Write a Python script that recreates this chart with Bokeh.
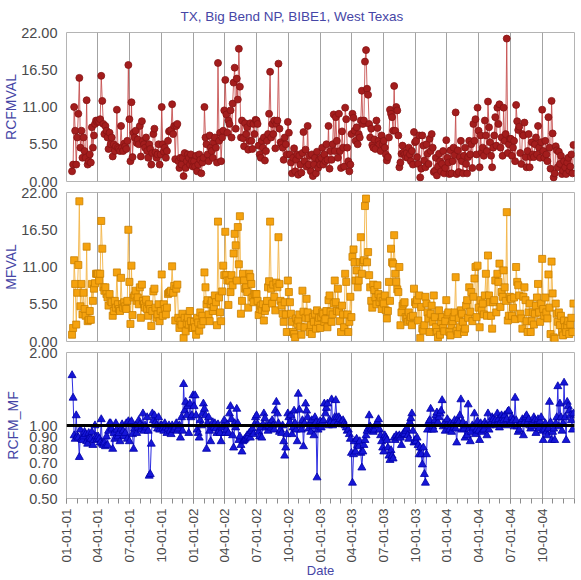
import numpy as np
import pandas as pd
from bokeh.plotting import figure
from bokeh.layouts import column
from bokeh.models import (Range1d, FixedTicker, DatetimeTickFormatter,
                          PrintfTickFormatter, Span, ColumnDataSource)
from bokeh.embed import file_html
from bokeh.resources import INLINE

TITLE = "TX, Big Bend NP, BIBE1, West Texas"
FIRST_SAMPLE = "2001-01-17"
SAMPLE_EVERY_DAYS = 3

# Reconstructed fine mass (ug/m3), one value per 1-in-3 day sample
RCFMVAL = [
    # 2001 Q1
    1.5, 2.5, 11.0, 7.5, 2.5, 6.5, 10.0, 15.3, 5.0, 7.5, 3.5, 6.5, 4.5, 3.5, 12.0, 2.5, 3.0, 4.0, 2.8, 8.0,
    5.0, 6.8, 8.5, 9.0, 8.8,
    # 2001 Q2
    9.0, 8.8, 9.2, 15.6, 11.9, 8.5, 7.0, 8.2, 7.5, 6.5, 4.8, 7.2, 5.5, 6.5, 3.7, 5.5, 4.5, 5.2, 10.6, 5.0,
    4.8, 4.5, 8.2, 5.0, 4.5, 5.6, 5.2, 4.8, 6.0, 17.2,
    # 2001 Q3
    9.2, 3.0, 11.7, 3.6, 7.2, 6.5, 7.5, 5.7, 6.2, 5.5, 8.2, 3.7, 8.9, 6.0, 5.5, 5.0, 6.5, 4.5, 3.5, 5.5,
    4.8, 2.5, 4.2, 7.0, 7.8, 4.3, 3.5, 4.0, 5.5, 2.5, 4.0,
    # 2001 Q4
    11.0, 5.5, 4.4, 5.0, 3.5, 4.5, 6.0, 7.4, 7.5, 7.6, 11.4, 7.0, 8.2, 3.3, 8.2, 8.5, 3.0, 2.0, 3.5, 2.5,
    3.5, 0.8, 4.2, 2.0, 3.0, 4.0, 3.5, 2.5, 4.0, 3.0, 2.2,
    # 2002 Q1
    3.0, 2.2, 3.8, 1.5, 2.5, 4.0, 3.2, 1.2, 2.8, 3.5, 11.0, 6.5, 5.5, 4.0, 3.0, 6.8, 5.0, 4.5, 3.5, 5.8,
    6.5, 5.0, 2.8, 17.5, 6.0, 7.2, 3.0, 6.5, 7.5, 10.5,
    # 2002 Q2
    15.0, 9.9, 7.2, 9.0, 8.5, 10.5, 6.5, 11.5, 14.6, 16.8, 7.8, 15.2, 12.1, 19.6, 14.0, 6.5, 9.0, 6.4, 5.2, 8.6,
    7.0, 8.0, 4.7, 6.0, 8.6, 6.0, 4.8, 8.5, 7.0, 9.1,
    # 2002 Q3
    9.0, 8.5, 5.3, 4.0, 3.5, 6.0, 5.0, 6.5, 3.1, 4.5, 6.0, 7.0, 10.0, 16.2, 6.5, 8.5, 7.0, 9.0, 4.9, 8.5,
    9.0, 17.4, 7.8, 5.8, 5.5, 5.0, 3.2, 6.5, 5.5, 4.0, 8.8,
    # 2002 Q4
    7.2, 4.0, 2.8, 1.2, 3.5, 4.9, 1.5, 3.2, 4.0, 1.0, 3.8, 2.5, 1.3, 4.2, 7.3, 3.0, 4.7, 2.2, 8.2, 2.5,
    3.8, 1.5, 4.0, 0.8, 2.5, 3.5, 1.2, 4.4, 2.0, 3.2, 2.5,
    # 2003 Q1
    3.5, 5.0, 2.5, 4.0, 3.0, 5.5, 3.2, 8.2, 1.9, 4.5, 3.2, 5.5, 9.9, 4.5, 9.5, 6.0, 3.5, 10.0, 4.5, 2.0,
    7.4, 5.0, 2.2, 10.9, 9.2, 5.0, 3.0, 1.5, 2.5, 7.0,
    # 2003 Q2
    10.0, 9.4, 7.5, 6.0, 8.0, 5.5, 7.0, 6.5, 9.0, 13.4, 8.5, 9.0, 17.7, 19.4, 13.7, 12.8, 8.5, 6.5, 7.8, 5.4,
    5.0, 6.2, 4.8, 9.0, 7.9, 6.0, 5.5, 4.5, 6.8, 5.5,
    # 2003 Q3
    6.0, 5.0, 4.0, 3.1, 3.6, 6.5, 10.6, 10.0, 9.5, 7.5, 14.1, 7.5, 11.0, 10.5, 6.8, 2.1, 2.8, 4.1, 5.3, 4.3,
    4.0, 3.6, 4.2, 3.5, 5.0, 4.0, 3.0, 4.5, 2.5, 7.3, 5.8,
    # 2003 Q4
    6.0, 3.6, 2.6, 6.8, 0.6, 1.9, 6.8, 5.3, 3.1, 2.1, 5.5, 4.1, 2.6, 6.3, 4.5, 7.0, 5.0, 1.4, 1.6, 3.5,
    0.9, 2.2, 4.1, 3.0, 1.5, 2.6, 4.5, 1.2, 2.0, 6.1, 3.5,
    # 2004 Q1
    2.8, 1.1, 4.6, 1.2, 3.0, 5.0, 3.9, 10.2, 1.1, 4.6, 1.4, 3.6, 6.0, 3.0, 1.2, 3.8, 5.0, 2.6, 1.2, 3.6,
    6.0, 4.0, 5.5, 2.0, 8.5, 6.0, 9.2, 4.0, 10.9, 7.5,
    # 2004 Q2
    2.1, 6.8, 4.3, 5.0, 3.8, 9.0, 6.8, 4.5, 11.8, 8.0, 5.8, 3.8, 2.1, 5.0, 6.8, 9.5, 5.3, 10.9, 8.5, 11.4,
    5.0, 6.5, 3.8, 10.9, 6.0, 7.0, 21.1, 4.2, 5.5, 6.3,
    # 2004 Q3
    6.3, 3.8, 5.0, 6.0, 3.0, 11.3, 8.9, 7.6, 8.1, 4.2, 2.6, 7.0, 6.8, 8.7, 3.6, 2.1, 4.5, 7.0, 2.1, 3.6,
    5.8, 4.0, 3.6, 5.5, 6.5, 4.0, 8.2, 5.0, 3.5, 5.8, 10.6,
    # 2004 Q4
    4.5, 3.5, 6.0, 4.0, 3.0, 9.5, 5.0, 1.9, 11.9, 7.1, 0.6, 1.2, 5.2, 4.6, 2.1, 4.4, 2.6, 3.8, 1.1, 1.6,
    3.0, 2.1, 1.1, 2.8, 3.5, 1.6, 2.2, 4.0, 1.2, 5.4,
]

# Gravimetric fine mass (ug/m3), same sample days
MFVAL = [
    # 2001 Q1
    1.0, 2.0, 12.0, 8.5, 2.5, 7.2, 11.3, 20.7, 5.2, 8.5, 4.0, 7.2, 4.8, 3.8, 14.0, 3.0, 3.2, 4.5, 3.2, 8.5,
    6.0, 7.8, 8.6, 10.0, 10.0,
    # 2001 Q2
    10.0, 9.0, 10.0, 17.8, 13.7, 8.0, 7.5, 8.0, 7.0, 6.5, 5.3, 7.0, 6.0, 5.8, 3.8, 4.5, 6.0, 5.0, 10.2, 5.5,
    4.8, 4.5, 9.4, 5.5, 5.0, 5.8, 5.2, 4.8, 6.0, 16.5,
    # 2001 Q3
    8.8, 2.6, 11.2, 3.9, 6.5, 6.8, 7.5, 6.0, 6.5, 5.5, 8.0, 3.5, 8.4, 6.0, 5.5, 5.0, 6.2, 4.8, 3.8, 5.5,
    4.8, 2.3, 4.5, 7.4, 7.8, 5.0, 3.5, 4.0, 5.5, 3.0, 4.5,
    # 2001 Q4
    9.9, 3.8, 5.5, 4.8, 4.0, 5.0, 7.0, 7.2, 7.3, 7.5, 11.1, 7.2, 8.2, 3.1, 7.8, 8.4, 3.5, 2.0, 3.0, 2.5,
    4.1, 0.5, 3.5, 1.5, 2.7, 3.5, 2.5, 4.5, 3.0, 2.0, 2.0,
    # 2002 Q1
    2.9, 2.1, 1.0, 3.5, 2.8, 1.6, 4.3, 2.5, 3.8, 3.0, 10.2, 8.0, 5.5, 6.1, 4.0, 3.0, 5.5, 6.0, 4.5, 5.1,
    6.8, 5.8, 2.4, 17.7, 6.5, 4.3, 3.0, 7.4, 11.2, 9.8,
    # 2002 Q2
    16.2, 9.8, 9.0, 5.4, 9.0, 7.3, 9.8, 8.3, 13.0, 15.9, 14.2, 9.0, 16.9, 11.4, 18.5, 4.1, 6.0, 10.0, 9.0, 7.8,
    8.0, 7.3, 5.0, 10.0, 9.5, 8.5, 6.5, 5.8, 7.0, 7.0,
    # 2002 Q3
    7.0, 6.0, 3.9, 4.8, 5.3, 4.7, 5.5, 3.1, 4.5, 5.0, 6.0, 8.0, 8.9, 17.7, 7.8, 5.6, 8.4, 6.6, 4.6, 8.7,
    8.0, 15.4, 8.5, 6.0, 5.3, 4.1, 2.9, 5.8, 4.0, 1.4, 9.0,
    # 2002 Q4
    7.3, 5.8, 4.1, 2.9, 1.4, 1.1, 0.6, 3.4, 2.6, 3.1, 4.0, 2.2, 1.0, 7.5, 4.4, 2.1, 3.5, 6.3, 4.3, 3.4,
    1.4, 2.4, 1.1, 3.6, 2.9, 4.1, 1.9, 4.6, 2.9, 3.5, 2.0,
    # 2003 Q1
    3.6, 4.3, 4.1, 2.9, 3.3, 4.5, 2.1, 6.1, 6.8, 4.4, 2.9, 4.0, 5.6, 9.0, 5.8, 4.5, 7.8, 4.4, 3.0, 1.4,
    5.3, 4.0, 2.1, 10.0, 8.8, 4.0, 1.4, 2.9, 6.6, 3.6,
    # 2003 Q2
    12.5, 13.6, 11.7, 9.0, 10.5, 8.0, 9.0, 11.7, 15.4, 10.0, 11.7, 12.0, 20.0, 21.1, 11.7, 13.2, 9.8, 8.0, 6.0, 5.0,
    8.4, 7.6, 6.5, 5.5, 8.3, 7.0, 5.8, 6.5, 4.8, 6.0,
    # 2003 Q3
    5.6, 6.8, 4.6, 3.4, 4.5, 8.8, 6.0, 13.7, 11.7, 11.5, 15.7, 10.0, 8.8, 7.7, 7.3, 11.0, 2.4, 4.3, 5.3, 5.6,
    5.8, 3.6, 3.4, 2.9, 4.3, 3.1, 3.6, 2.4, 3.8, 7.8, 5.8,
    # 2003 Q4
    5.5, 6.1, 3.1, 6.8, 0.5, 5.1, 1.9, 1.6, 2.4, 6.6, 5.6, 4.3, 3.4, 1.4, 4.1, 5.3, 2.9, 6.8, 3.6, 2.1,
    1.4, 0.6, 4.6, 1.0, 2.9, 3.6, 2.0, 1.5, 3.0, 6.1, 4.0,
    # 2004 Q1
    4.3, 1.4, 0.9, 2.4, 3.0, 3.6, 4.3, 9.5, 1.6, 1.1, 3.4, 2.1, 4.6, 4.1, 2.9, 1.4, 1.9, 5.3, 6.1, 3.5,
    8.0, 4.4, 7.3, 3.0, 6.6, 9.3, 11.0, 3.6, 11.2, 5.0,
    # 2004 Q2
    2.1, 6.1, 4.6, 5.6, 4.0, 6.8, 10.0, 3.8, 12.7, 6.8, 5.8, 3.8, 1.9, 5.8, 6.1, 9.0, 4.3, 10.0, 8.8, 11.5,
    5.1, 7.3, 6.6, 10.5, 8.0, 6.0, 19.1, 3.1, 3.8, 6.6,
    # 2004 Q3
    6.3, 3.8, 5.0, 6.5, 3.3, 11.0, 8.8, 8.3, 6.8, 4.1, 3.4, 1.9, 6.6, 8.0, 6.1, 3.0, 1.4, 4.3, 5.6, 1.4,
    3.0, 4.3, 2.5, 4.1, 5.3, 6.5, 8.5, 4.3, 2.9, 5.6, 12.2,
    # 2004 Q4
    4.8, 3.8, 6.5, 4.3, 3.4, 9.9, 5.0, 1.1, 11.8, 7.1, 0.6, 0.4, 5.6, 4.1, 2.9, 4.3, 2.4, 3.8, 1.4, 0.9,
    3.1, 2.1, 1.4, 2.4, 3.0, 1.1, 2.5, 3.5, 1.4, 5.6,
]

# Ratio of reconstructed to gravimetric fine mass
RCFM_MF = [
    # 2001 Q1
    1.61, 1.30, 0.91, 0.88, 1.10, 0.90, 0.89, 0.74, 0.96, 0.88, 0.87, 0.90, 0.94, 0.92, 0.86, 0.84, 0.93, 0.89, 0.88, 0.94,
    0.83, 0.87, 1.00, 0.90, 0.88,
    # 2001 Q2
    0.90, 0.88, 0.85, 1.06, 0.84, 0.83, 0.85, 0.82, 0.90, 0.83, 0.95, 1.02, 1.02, 0.97, 0.80, 0.93, 0.88, 1.02, 0.96, 0.90,
    0.93, 0.86, 0.97, 1.01, 0.95, 0.90, 0.93, 1.02, 0.88, 1.04,
    # 2001 Q3
    0.86, 1.02, 1.04, 0.92, 0.80, 0.97, 1.00, 0.93, 0.98, 1.05, 1.01, 0.96, 0.99, 1.12, 0.95, 1.00, 0.98, 1.08, 0.95, 0.62,
    0.63, 0.84, 1.12, 1.05, 1.10, 1.03, 1.00, 0.97, 1.08, 0.96, 1.00,
    # 2001 Q4
    1.00, 0.97, 0.95, 1.02, 0.98, 0.93, 0.97, 1.00, 0.95, 0.92, 1.00, 0.96, 0.96, 0.98, 1.02, 0.95, 0.97, 1.00, 0.89, 1.08,
    0.95, 1.48, 1.15, 1.25, 1.10, 1.20, 0.93, 1.23, 1.08, 1.10, 1.33,
    # 2002 Q1
    1.20, 1.33, 1.10, 0.96, 0.93, 0.89, 1.05, 1.00, 1.12, 1.23, 1.17, 1.10, 0.80, 1.02, 1.08, 0.95, 0.86, 1.00, 1.03, 0.98,
    1.02, 0.97, 0.93, 1.01, 0.95, 0.93, 0.86, 0.98, 1.00, 1.05,
    # 2002 Q2
    0.93, 0.96, 1.01, 0.93, 1.12, 1.20, 1.06, 0.91, 0.81, 1.02, 0.98, 1.17, 1.02, 0.87, 0.90, 0.83, 0.78, 0.86, 0.87, 0.88,
    0.89, 0.91, 0.90, 0.93, 0.89, 0.95, 0.97, 0.92, 1.01, 1.08,
    # 2002 Q3
    1.10, 1.01, 0.94, 0.90, 0.98, 0.89, 1.01, 1.12, 1.07, 0.98, 1.00, 0.95, 0.99, 1.02, 0.98, 1.05, 1.00, 0.96, 1.15, 1.25,
    1.12, 1.02, 0.94, 0.96, 0.93, 1.00, 0.86, 0.75, 0.81, 0.92, 1.12,
    # 2002 Q4
    1.08, 1.03, 1.10, 0.92, 0.98, 1.15, 1.02, 0.96, 0.86, 1.35, 1.16, 1.00, 0.96, 1.05, 0.82, 1.02, 1.23, 1.15, 1.08, 0.97,
    1.02, 0.94, 1.05, 0.99, 0.91, 1.08, 1.03, 0.61, 0.96, 1.00, 1.04,
    # 2003 Q1
    0.98, 1.03, 1.05, 1.23, 1.12, 1.18, 1.23, 1.00, 1.05, 1.03, 1.28, 1.00, 1.03, 1.08, 1.27, 1.08, 1.03, 1.08, 1.06, 1.03,
    1.01, 1.05, 1.02, 1.00, 0.98, 0.95, 0.96, 0.92, 0.88, 0.77,
    # 2003 Q2
    0.58, 0.76, 0.86, 0.78, 0.88, 0.83, 0.82, 0.86, 0.77, 0.67, 0.78, 0.83, 0.87, 0.91, 0.95, 0.97, 1.10, 0.99, 0.97, 0.95,
    0.94, 0.96, 1.00, 1.00, 1.03, 1.06, 0.96, 0.91, 0.86, 0.81,
    # 2003 Q3
    0.78, 0.91, 0.89, 0.87, 0.81, 0.75, 0.72, 0.79, 0.75, 0.73, 0.89, 0.87, 0.91, 0.89, 0.90, 0.91, 0.89, 0.83, 0.91, 0.93,
    0.92, 0.95, 0.97, 0.91, 0.88, 1.03, 1.07, 1.12, 0.95, 0.85, 0.87,
    # 2003 Q4
    0.86, 0.89, 0.83, 0.76, 0.81, 0.76, 0.69, 0.81, 0.63, 0.58, 0.76, 0.96, 1.03, 1.05, 1.17, 0.96, 0.99, 0.96, 1.05, 1.10,
    1.13, 1.03, 1.08, 1.12, 1.15, 1.27, 0.99, 1.02, 0.95, 1.00, 1.06,
    # 2004 Q1
    0.99, 0.96, 1.02, 0.94, 1.01, 0.98, 1.05, 0.97, 0.85, 1.05, 1.03, 1.10, 1.28, 0.96, 1.03, 0.97, 0.89, 1.00, 0.91, 1.22,
    0.97, 0.86, 0.94, 1.00, 0.98, 1.12, 0.92, 0.96, 1.04, 0.95,
    # 2004 Q2
    0.87, 1.02, 0.94, 1.00, 0.96, 1.03, 1.00, 0.91, 1.12, 0.96, 1.00, 1.03, 1.08, 1.06, 1.02, 1.05, 1.00, 1.12, 1.06, 0.98,
    1.03, 1.10, 1.07, 1.05, 1.10, 1.00, 1.06, 1.14, 1.15, 1.02,
    # 2004 Q3
    1.03, 1.08, 1.05, 0.99, 1.30, 1.05, 0.99, 0.94, 0.96, 1.02, 1.03, 1.06, 0.91, 1.03, 1.08, 1.10, 1.03, 1.06, 1.00, 0.97,
    0.99, 1.03, 1.08, 1.05, 0.93, 1.02, 1.06, 0.97, 1.04, 1.08, 0.95,
    # 2004 Q4
    0.87, 0.96, 1.02, 0.94, 0.91, 0.97, 1.25, 1.03, 0.87, 0.94, 0.97, 0.87, 1.02, 1.08, 1.45, 0.99, 1.23, 1.08, 0.95, 1.02,
    1.50, 1.08, 0.87, 1.25, 1.20, 1.15, 1.10, 1.05, 0.96, 1.12,
]

QUARTER_LABELS = ["01-01-01", "04-01-01", "07-01-01", "10-01-01",
                  "01-01-02", "04-01-02", "07-01-02", "10-01-02",
                  "01-01-03", "04-01-03", "07-01-03", "10-01-03",
                  "01-01-04", "04-01-04", "07-01-04", "10-01-04"]
MASS_TICKS = [0.0, 5.5, 11.0, 16.5, 22.0]
RATIO_TICKS = [0.5, 0.6, 0.7, 0.8, 0.9, 1.0, 2.0]
DATE_START, DATE_END = "2001-01-01", "2005-01-02"

assert len(RCFMVAL) == len(MFVAL) == len(RCFM_MF)

FONT = "Liberation Sans"
BLUE_TEXT = "#4646a6"
TICK_TEXT = "#4a4a4a"


def to_ms(values):
    idx = pd.DatetimeIndex(pd.to_datetime(values))
    return [float(v) for v in (idx - pd.Timestamp("1970-01-01")) / pd.Timedelta(milliseconds=1)]


dates = pd.date_range(FIRST_SAMPLE, periods=len(RCFMVAL), freq=f"{SAMPLE_EVERY_DAYS}D")
source = ColumnDataSource(dict(date=dates, rcfm=RCFMVAL, mf=MFVAL, ratio=RCFM_MF))

quarter_ms = to_ms(pd.to_datetime(QUARTER_LABELS, format="%m-%d-%y"))
month_ms = to_ms(pd.date_range(DATE_START, "2005-01-01", freq="MS"))
x_start, x_end = to_ms([DATE_START, DATE_END])
x_range = Range1d(start=x_start, end=x_end)


def make_panel(height, border_top, border_bottom, y_range, y_type, label, ticks,
               show_dates, label_standoff, overlap=0):
    p = figure(width=581, height=height, x_range=x_range, y_range=y_range,
               x_axis_type="datetime", y_axis_type=y_type,
               x_axis_location="below" if show_dates else None,
               output_backend="svg", toolbar_location=None,
               min_border_left=66, min_border_right=7,
               min_border_top=border_top, min_border_bottom=border_bottom)
    if overlap:
        # panels slide slightly under each other so edge tick labels are not clipped
        p.margin = (-overlap, 0, 0, 0)
        p.border_fill_color = None
    p.outline_line_color = "#b4b4b4"
    p.background_fill_color = "white"
    p.xgrid.ticker = FixedTicker(ticks=quarter_ms)
    p.xgrid.grid_line_color = "#a3a3a3"
    p.ygrid.visible = False

    ax = p.yaxis[0]
    ax.ticker = FixedTicker(ticks=ticks)
    ax.formatter = PrintfTickFormatter(format="%.2f")
    ax.axis_label = label
    ax.axis_label_text_font = FONT
    ax.axis_label_text_font_size = "14px"
    ax.axis_label_text_font_style = "normal"
    ax.axis_label_text_color = BLUE_TEXT
    ax.axis_label_standoff = label_standoff
    ax.major_label_text_font = FONT
    ax.major_label_text_font_size = "14.5px"
    ax.major_label_text_color = TICK_TEXT
    ax.major_label_standoff = 9
    ax.major_tick_out = 0
    ax.major_tick_in = 0
    ax.minor_tick_out = 0
    ax.minor_tick_in = 0
    ax.axis_line_color = None
    return p


# Panel 1: reconstructed fine mass
p1 = make_panel(191, 32, 10, Range1d(0, 22), "linear", "RCFMVAL", MASS_TICKS, False, -1)
p1.title.text = TITLE
p1.title.align = "left"
p1.title.vertical_align = "top"
p1.title.offset = 114
p1.title.standoff = 14
p1.title.text_font = FONT
p1.title.text_font_size = "13.5px"
p1.title.text_font_style = "normal"
p1.title.text_color = BLUE_TEXT
p1.line("date", "rcfm", source=source, line_color="#c44a4a", line_width=1, line_alpha=0.85)
p1.scatter("date", "rcfm", source=source, marker="circle", size=7,
           fill_color="#a31d1d", line_color="#861414", line_width=0.8)

# Panel 2: gravimetric fine mass
p2 = make_panel(168, 9, 10, Range1d(0, 22), "linear", "MFVAL", MASS_TICKS, False, -1, overlap=8)
p2.line("date", "mf", source=source, line_color="#f3b547", line_width=1, line_alpha=0.9)
p2.scatter("date", "mf", source=source, marker="square", size=7,
           fill_color="#f5a20e", line_color="#c98000", line_width=0.8)

# Panel 3: ratio on a log scale with the 1:1 reference line
p3 = make_panel(237, 9, 78, Range1d(0.5, 2.0), "log", "RCFM_MF", RATIO_TICKS, True, 5, overlap=8)
p3.line("date", "ratio", source=source, line_color="#2d2de0", line_width=1)
p3.scatter("date", "ratio", source=source, marker="triangle", size=8,
           fill_color="#1616d6", line_color="#0000a8", line_width=0.8)
p3.add_layout(Span(location=1.0, dimension="width", line_color="black", line_width=3))

xa = p3.xaxis[0]
date_fmt = "%m-%d-%y"
xa.ticker = FixedTicker(ticks=quarter_ms, minor_ticks=month_ms)
xa.formatter = DatetimeTickFormatter(microseconds=date_fmt, milliseconds=date_fmt, seconds=date_fmt,
                                     minsec=date_fmt, minutes=date_fmt, hourmin=date_fmt,
                                     hours=date_fmt, days=date_fmt, months=date_fmt, years=date_fmt)
xa.major_label_orientation = np.pi / 2
xa.major_label_standoff = 5
xa.major_label_text_font = FONT
xa.major_label_text_font_size = "13.5px"
xa.major_label_text_color = TICK_TEXT
xa.major_tick_out = 5
xa.major_tick_in = 0
xa.minor_tick_out = 5
xa.minor_tick_in = 0
xa.major_tick_line_color = "#8c8c8c"
xa.minor_tick_line_color = "#8c8c8c"
xa.axis_line_color = None
xa.axis_label = "Date"
xa.axis_label_text_font = FONT
xa.axis_label_text_font_size = "13px"
xa.axis_label_text_font_style = "normal"
xa.axis_label_text_color = BLUE_TEXT
xa.axis_label_standoff = -3

layout = column(p1, p2, p3, spacing=0)
open("out.html", "w").write(file_html(layout, INLINE))
